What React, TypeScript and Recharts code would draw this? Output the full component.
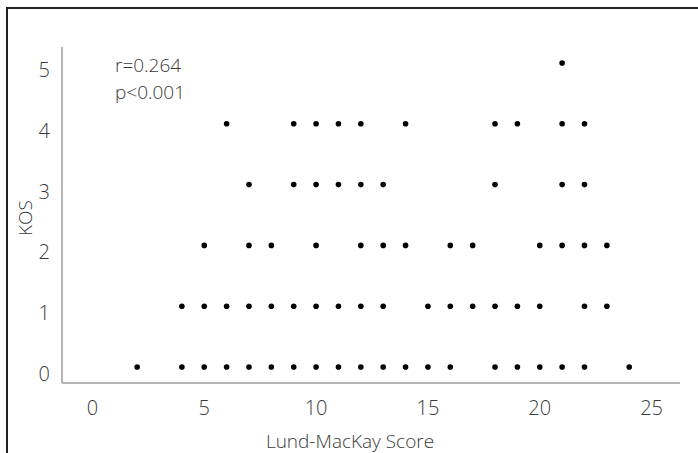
import React from 'react';
import { ScatterChart, Scatter, XAxis, YAxis, Label } from 'recharts';

const kos0 = [2, 4, 5, 6, 7, 8, 9, 10, 11, 12, 13, 14, 15, 16, 18, 19, 20, 21, 22, 24];
const kos1 = [4, 5, 6, 7, 8, 9, 10, 11, 12, 13, 15, 16, 17, 18, 19, 20, 22, 23];
const kos2 = [5, 7, 8, 10, 12, 13, 14, 16, 17, 20, 21, 22, 23];
const kos3 = [7, 9, 10, 11, 12, 13, 18, 21, 22];
const kos4 = [6, 9, 10, 11, 12, 14, 18, 19, 21, 22];
const kos5 = [21];
const xTicks = [0, 5, 10, 15, 20, 25];
const yTicks = [0, 1, 2, 3, 4, 5];

const rows: number[][] = [kos0, kos1, kos2, kos3, kos4, kos5];
const data = rows.flatMap((xs, k) => xs.map((lm) => ({ lm, kos: k })));

const FONT = '"Open Sans", "Noto Sans", sans-serif';
const TXT = '#3a3a3a';

const XTick = (p: any) => (
  <text x={p.x} y={p.y} dy={24} textAnchor="middle" fontFamily={FONT} fontWeight={300} fontSize={20} fill={TXT}>
    {p.payload.value}
  </text>
);
const YTick = (p: any) => (
  <text x={p.x} y={p.y} dy={14} textAnchor="end" fontFamily={FONT} fontWeight={300} fontSize={20} fill={TXT}>
    {p.payload.value}
  </text>
);

const Dot = (p: any) => <circle cx={p.cx} cy={p.cy} r={2.8} fill="#000" />;

export default function App() {
  return (
    <div style={{ position: 'absolute', left: 0, top: 0, width: 698, height: 453, overflow: 'hidden', background: '#fff' }}>
      <div style={{ position: 'absolute', left: 6, top: 7, width: 700, height: 460, borderTop: '2px solid #222', borderLeft: '2px solid #222' }} />
      <ScatterChart width={698} height={453} margin={{ top: 47, right: 18, bottom: 10, left: 2 }} style={{ position: 'absolute', left: 0, top: 0 }}>
        <XAxis
          type="number"
          dataKey="lm"
          domain={[-1.36, 26.27]}
          ticks={xTicks}
          allowDataOverflow
          height={60}
          tickLine={false}
          axisLine={{ stroke: '#b5b5b5', strokeWidth: 2 }}
          tick={<XTick />}
        >
          <Label
            content={() => (
              <text x={350} y={448} textAnchor="middle" fontFamily={FONT} fontWeight={300} fontSize={19} fill={TXT}>
                Lund-MacKay Score
              </text>
            )}
          />
        </XAxis>
        <YAxis
          type="number"
          dataKey="kos"
          domain={[-0.263, 5.263]}
          ticks={yTicks}
          allowDataOverflow
          width={60}
          tickLine={false}
          tickMargin={6}
          axisLine={{ stroke: '#b5b5b5', strokeWidth: 2 }}
          tick={<YTick />}
        >
          <Label
            content={() => (
              <text x={32} y={218} transform="rotate(-90 32 218)" textAnchor="middle" fontFamily={FONT} fontWeight={300} fontSize={19} fill={TXT}>
                KOS
              </text>
            )}
          />
        </YAxis>
        <Scatter data={data} shape={<Dot />} isAnimationActive={false} />
      </ScatterChart>
      <div style={{ position: 'absolute', left: 115, top: 52, fontFamily: FONT, fontWeight: 300, fontSize: 19, lineHeight: '27px', color: TXT }}>
        <div>r=0.264</div>
        <div>p&lt;0.001</div>
      </div>
    </div>
  );
}
